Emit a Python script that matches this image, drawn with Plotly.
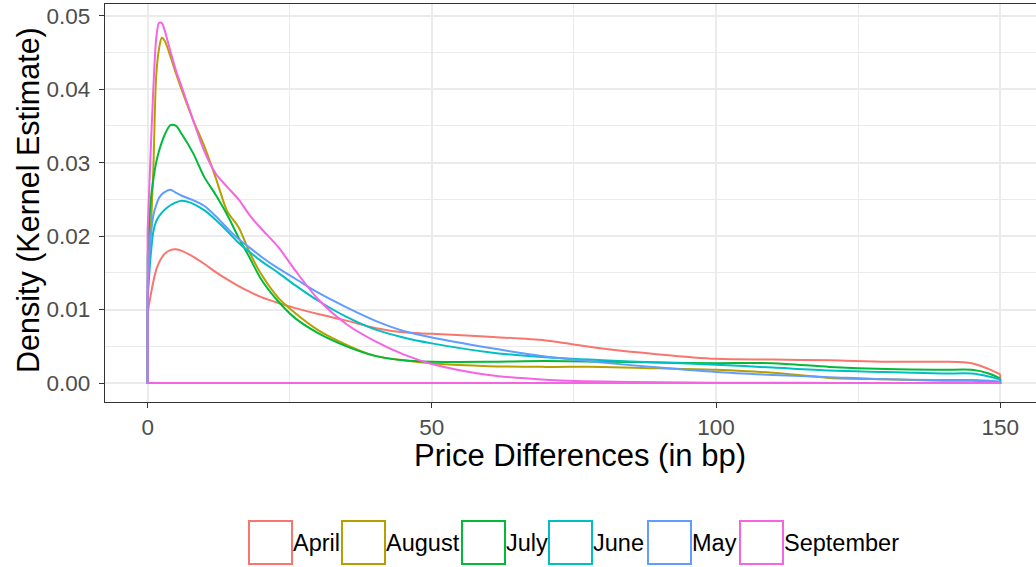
import plotly.graph_objects as go

# grid of price differences (bp) at which the kernel estimates were read off
price_diff = [0, 0.5, 1, 1.5, 2, 2.5, 3, 4, 5, 6, 8, 10, 12, 14, 16, 18, 20, 23, 26, 30,
              35, 40, 45, 50, 60, 70, 80, 90, 100, 110, 120, 130, 140, 145, 148, 150]

april = [0.0095, 0.0118, 0.0138, 0.0154, 0.0164, 0.0171, 0.0176, 0.0181, 0.0182, 0.0180,
         0.0172, 0.0162, 0.0151, 0.0141, 0.0132, 0.0124, 0.0117, 0.0109, 0.0102, 0.0094,
         0.0085, 0.0075, 0.0069, 0.0067, 0.0063, 0.0058, 0.0047, 0.0039, 0.0033, 0.0032,
         0.0031, 0.0029, 0.0029, 0.0027, 0.0019, 0.0012]
august = [0.0120, 0.0200, 0.0290, 0.0417, 0.0455, 0.0470, 0.0466, 0.0445, 0.0421, 0.0399,
          0.0358, 0.0322, 0.0279, 0.0234, 0.0212, 0.0177, 0.0148, 0.0116, 0.0095, 0.0072,
          0.0052, 0.0037, 0.0031, 0.0027, 0.0023, 0.0022, 0.0022, 0.0020, 0.0018, 0.0014,
          0.0007, 0.0005, 0.0003, 0.0003, 0.0002, 0.0001]
july = [0.0170, 0.0245, 0.0277, 0.0300, 0.0316, 0.0328, 0.0338, 0.0351, 0.0350, 0.0339,
        0.0313, 0.0280, 0.0256, 0.0229, 0.0198, 0.0170, 0.0141, 0.0111, 0.0088, 0.0068,
        0.0050, 0.0037, 0.0031, 0.0029, 0.0029, 0.0030, 0.0029, 0.0028, 0.0027, 0.0027,
        0.0022, 0.0019, 0.0018, 0.0018, 0.0013, 0.0006]
june = [0.0115, 0.0170, 0.0206, 0.0220, 0.0227, 0.0232, 0.0236, 0.0242, 0.0246, 0.0248,
        0.0244, 0.0235, 0.0222, 0.0207, 0.0191, 0.0178, 0.0166, 0.0150, 0.0133, 0.0112,
        0.0090, 0.0073, 0.0062, 0.0054, 0.0042, 0.0035, 0.0031, 0.0028, 0.0025, 0.0021,
        0.0017, 0.0015, 0.0013, 0.0013, 0.0009, 0.0005]
may = [0.0135, 0.0195, 0.0228, 0.0242, 0.0252, 0.0257, 0.0260, 0.0263, 0.0259, 0.0255,
       0.0249, 0.0241, 0.0227, 0.0211, 0.0196, 0.0184, 0.0172, 0.0156, 0.0142, 0.0123,
       0.0103, 0.0085, 0.0071, 0.0062, 0.0048, 0.0036, 0.0028, 0.0021, 0.0015, 0.0011,
       0.0008, 0.0005, 0.0004, 0.0004, 0.0003, 0.0002]
september = [0.0208, 0.0308, 0.0400, 0.0468, 0.0490, 0.0490, 0.0480, 0.0452, 0.0425, 0.0403,
             0.0358, 0.0315, 0.0285, 0.0267, 0.0250, 0.0228, 0.0210, 0.0185, 0.0153, 0.0114,
             0.0080, 0.0057, 0.0039, 0.0026, 0.0011, 0.00045, 0.0002, 0.0001, 0.00005, 0.00003,
             0.00002, 0.00001, 0.00001, 0.00001, 0.00001, 0.0]

months = ["April", "August", "July", "June", "May", "September"]
series = [april, august, july, june, may, september]
colors = ["#F8766D", "#B79F00", "#00BA38", "#00BFC4", "#619CFF", "#F564E3"]

fig = go.Figure()

# each density is an outlined polygon closed down to the baseline (like geom_density)
for name, dens, col in zip(months, series, colors):
    # smoothed curve
    fig.add_trace(go.Scatter(
        x=price_diff, y=dens, mode="lines", name=name,
        line=dict(color=col, width=2, shape="spline", smoothing=0.8),
        hoverinfo="skip", showlegend=False
    ))
    # closing edges down to zero and along the baseline
    fig.add_trace(go.Scatter(
        x=[price_diff[0], price_diff[0], price_diff[-1], price_diff[-1]],
        y=[dens[0], 0, 0, dens[-1]], mode="lines",
        line=dict(color=col, width=2),
        hoverinfo="skip", showlegend=False
    ))

# hand-made ggplot-style legend with outlined boxes
legend_x = [249, 342, 462, 549, 648, 740]   # box left edges in px
W, H = 1036, 567
ml, mr, mt, mb = 105, 0, 4, 165
pw, ph = W - ml - mr, H - mt - mb

def px_x(p):
    return (p - ml) / pw

def px_y(p):
    return (H - mb - p) / ph

shapes = []
annotations = []
for name, col, lx in zip(months, colors, legend_x):
    shapes.append(dict(type="rect", xref="paper", yref="paper",
                       x0=px_x(lx), x1=px_x(lx + 43), y0=px_y(564), y1=px_y(521),
                       line=dict(color=col, width=2), fillcolor="white"))
    annotations.append(dict(xref="paper", yref="paper", x=px_x(lx + 42), y=px_y(543),
                            text=name, showarrow=False, xanchor="left", yanchor="middle",
                            font=dict(size=23.5, color="black")))

annotations.append(dict(xref="paper", yref="paper", x=px_x(580), y=px_y(455),
                        text="Price Differences (in bp)", showarrow=False,
                        xanchor="center", yanchor="middle",
                        font=dict(size=31, color="black")))
annotations.append(dict(xref="paper", yref="paper", x=px_x(28), y=px_y(200),
                        text="Density (Kernel Estimate)", showarrow=False, textangle=-90,
                        xanchor="center", yanchor="middle",
                        font=dict(size=30.5, color="black")))

fig.update_layout(
    width=W, height=H,
    margin=dict(l=ml, r=mr, t=mt, b=mb),
    paper_bgcolor="white", plot_bgcolor="white",
    font=dict(family="Liberation Sans, Arial, sans-serif"),
    showlegend=False,
    shapes=shapes,
    annotations=annotations,
)
fig.update_xaxes(
    range=[-7.5, 156.3], tickvals=[0, 50, 100, 150],
    showgrid=True, gridcolor="#EBEBEB", gridwidth=2,
    minor=dict(dtick=25, showgrid=True, gridcolor="#EBEBEB", gridwidth=1),
    showline=True, linecolor="#333333", linewidth=1.3, mirror=True,
    ticks="outside", ticklen=5, tickcolor="#333333", tickwidth=1.3,
    tickfont=dict(size=22.5, color="#4D4D4D"), zeroline=False,
)
fig.update_yaxes(
    range=[-0.00258, 0.0516], tickvals=[0, 0.01, 0.02, 0.03, 0.04, 0.05],
    tickformat=".2f",
    showgrid=True, gridcolor="#EBEBEB", gridwidth=2,
    minor=dict(dtick=0.005, showgrid=True, gridcolor="#EBEBEB", gridwidth=1),
    showline=True, linecolor="#333333", linewidth=1.3,
    ticks="outside", ticklen=5, tickcolor="#333333", tickwidth=1.3,
    ticklabelstandoff=4,
    tickfont=dict(size=22.5, color="#4D4D4D"), zeroline=False,
)

# drop the page's default body margin so the figure sits at the window origin
fig.write_html("out.html", config={"displayModeBar": False},
               post_script="document.body.style.margin='0px';")
